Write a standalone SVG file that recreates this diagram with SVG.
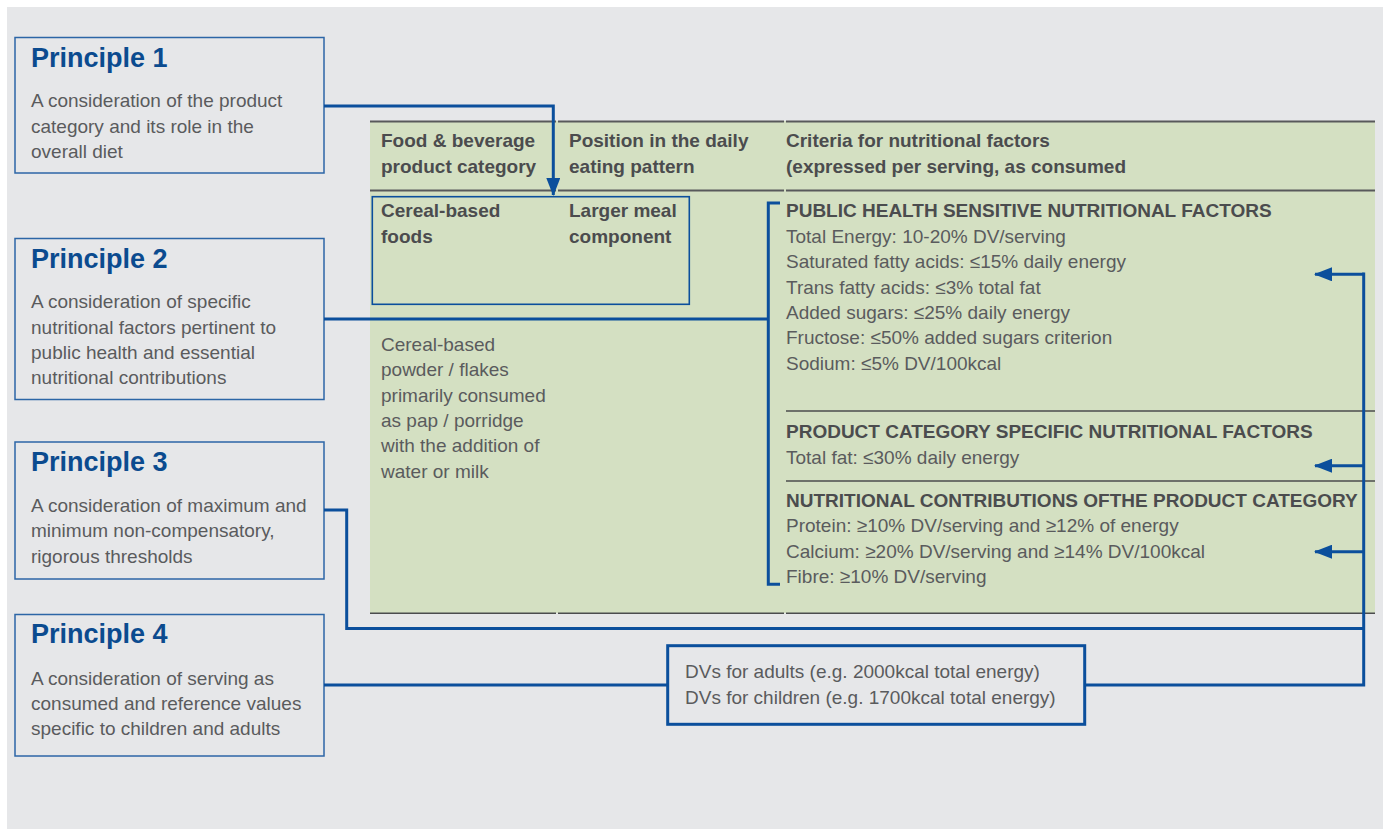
<svg xmlns="http://www.w3.org/2000/svg" width="1391" height="831" viewBox="0 0 1391 831">
<defs>
<style>
.bg{fill:#e6e7e9}
.pbox{fill:#e6e7e9;stroke:#2c66a6;stroke-width:1.5}
.ptitle{font-family:"Liberation Sans",Arial,sans-serif;font-weight:bold;font-size:27px;fill:#0b4b8f}
.pbody{font-family:"Liberation Sans",Arial,sans-serif;font-size:19px;fill:#5a5b5d}
.hd{font-family:"Liberation Sans",Arial,sans-serif;font-weight:bold;font-size:19px;fill:#4b4c4e}
.tx{font-family:"Liberation Sans",Arial,sans-serif;font-size:19px;fill:#5a5b5d}
.rule{stroke:#58595b;stroke-width:2;fill:none}
.rule2{stroke:#4b4c4e;stroke-width:1.5;fill:none}
.conn{stroke:#0b4f9c;stroke-width:3;fill:none}
.thin{stroke:#0b4f9c;stroke-width:1.6;fill:none}
</style>
<marker id="ah" viewBox="0 0 18 14" refX="17" refY="7" markerWidth="18" markerHeight="14" markerUnits="userSpaceOnUse" orient="auto">
<path d="M0,0 L18,7 L0,14 Z" fill="#0b4f9c"/>
</marker>
</defs>
<rect x="7" y="7" width="1376" height="822" class="bg"/>

<g id="table">
<rect x="370" y="121" width="1005" height="492" fill="#d4e0c2"/>
<path class="rule" d="M370,121.5 H556 M558,121.5 H784 M786,121.5 H1375"/>
<path class="rule" d="M370,190.5 H556 M558,190.5 H784 M786,190.5 H1375"/>
<path class="rule2" d="M786,411 H1375 M786,481 H1375"/>
<path class="rule2" d="M370,613.3 H556 M558,613.3 H784 M786,613.3 H1375"/>
<text class="hd" x="381" y="147">Food &amp; beverage</text>
<text class="hd" x="381" y="173">product category</text>
<text class="hd" x="569" y="147">Position in the daily</text>
<text class="hd" x="569" y="173">eating pattern</text>
<text class="hd" x="786" y="147">Criteria for nutritional factors</text>
<text class="hd" x="786" y="173">(expressed per serving, as consumed</text>
</g>

<g id="category-box">
<rect x="372.3" y="196.7" width="317" height="107.6" class="thin"/>
<text class="hd" x="381" y="217">Cereal-based</text>
<text class="hd" x="381" y="243">foods</text>
<text class="hd" x="569" y="217">Larger meal</text>
<text class="hd" x="569" y="243">component</text>
</g>

<g id="category-description">
<text class="tx" x="381" y="351">Cereal-based</text>
<text class="tx" x="381" y="376">powder / flakes</text>
<text class="tx" x="381" y="402">primarily consumed</text>
<text class="tx" x="381" y="427">as pap / porridge</text>
<text class="tx" x="381" y="452">with the addition of</text>
<text class="tx" x="381" y="478">water or milk</text>
</g>

<g id="public-health-factors">
<text class="hd" x="786" y="217">PUBLIC HEALTH SENSITIVE NUTRITIONAL FACTORS</text>
<text class="tx" x="786" y="243">Total Energy: 10-20% DV/serving</text>
<text class="tx" x="786" y="268">Saturated fatty acids: ≤15% daily energy</text>
<text class="tx" x="786" y="293.5">Trans fatty acids: ≤3% total fat</text>
<text class="tx" x="786" y="319">Added sugars: ≤25% daily energy</text>
<text class="tx" x="786" y="344">Fructose: ≤50% added sugars criterion</text>
<text class="tx" x="786" y="369.5">Sodium: ≤5% DV/100kcal</text>
</g>

<g id="product-category-factors">
<text class="hd" x="786" y="437.5">PRODUCT CATEGORY SPECIFIC NUTRITIONAL FACTORS</text>
<text class="tx" x="786" y="463.5">Total fat: ≤30% daily energy</text>
</g>

<g id="nutritional-contributions">
<text class="hd" x="786" y="506.5">NUTRITIONAL CONTRIBUTIONS OFTHE PRODUCT CATEGORY</text>
<text class="tx" x="786" y="532">Protein: ≥10% DV/serving and ≥12% of energy</text>
<text class="tx" x="786" y="557.5">Calcium: ≥20% DV/serving and ≥14% DV/100kcal</text>
<text class="tx" x="786" y="583">Fibre: ≥10% DV/serving</text>
</g>

<g id="principle-1">
<rect x="15" y="37.5" width="309" height="135.5" class="pbox"/>
<text class="ptitle" x="31" y="67">Principle 1</text>
<text class="pbody" x="31" y="107">A consideration of the product</text>
<text class="pbody" x="31" y="132.5">category and its role in the</text>
<text class="pbody" x="31" y="158">overall diet</text>
</g>

<g id="principle-2">
<rect x="15" y="238.5" width="309" height="161" class="pbox"/>
<text class="ptitle" x="31" y="268">Principle 2</text>
<text class="pbody" x="31" y="308">A consideration of specific</text>
<text class="pbody" x="31" y="333.5">nutritional factors pertinent to</text>
<text class="pbody" x="31" y="359">public health and essential</text>
<text class="pbody" x="31" y="384">nutritional contributions</text>
</g>

<g id="principle-3">
<rect x="15" y="442" width="309" height="137" class="pbox"/>
<text class="ptitle" x="31" y="471">Principle 3</text>
<text class="pbody" x="31" y="512">A consideration of maximum and</text>
<text class="pbody" x="31" y="537">minimum non-compensatory,</text>
<text class="pbody" x="31" y="563">rigorous thresholds</text>
</g>

<g id="principle-4">
<rect x="15" y="614.5" width="309" height="141.5" class="pbox"/>
<text class="ptitle" x="31" y="643">Principle 4</text>
<text class="pbody" x="31" y="685">A consideration of serving as</text>
<text class="pbody" x="31" y="710">consumed and reference values</text>
<text class="pbody" x="31" y="735">specific to children and adults</text>
</g>

<g id="dv-box">
<rect x="667.7" y="645.7" width="417" height="78.6" fill="#e6e7e9" stroke="#0b4f9c" stroke-width="3"/>
<text class="tx" x="685" y="677.5">DVs for adults (e.g. 2000kcal total energy)</text>
<text class="tx" x="685" y="703.5">DVs for children (e.g. 1700kcal total energy)</text>
</g>

<g id="connectors">
<path class="conn" d="M324,106 H553.3 V195" marker-end="url(#ah)"/>
<path class="conn" d="M324,319 H768.3"/>
<path class="conn" d="M780,203 H768.3 V584.3 H780" stroke-width="2.5"/>
<path class="conn" d="M324,510 H346.7 V628.5 H1363.7"/>
<path class="conn" d="M324,685 H667.7"/>
<path class="conn" d="M1363.7,272.5 V685 H1084.7"/>
<path class="conn" d="M1363.7,274.3 H1315" marker-end="url(#ah)"/>
<path class="conn" d="M1363.7,465.7 H1315" marker-end="url(#ah)"/>
<path class="conn" d="M1363.7,551.7 H1315" marker-end="url(#ah)"/>
</g>
</svg>
